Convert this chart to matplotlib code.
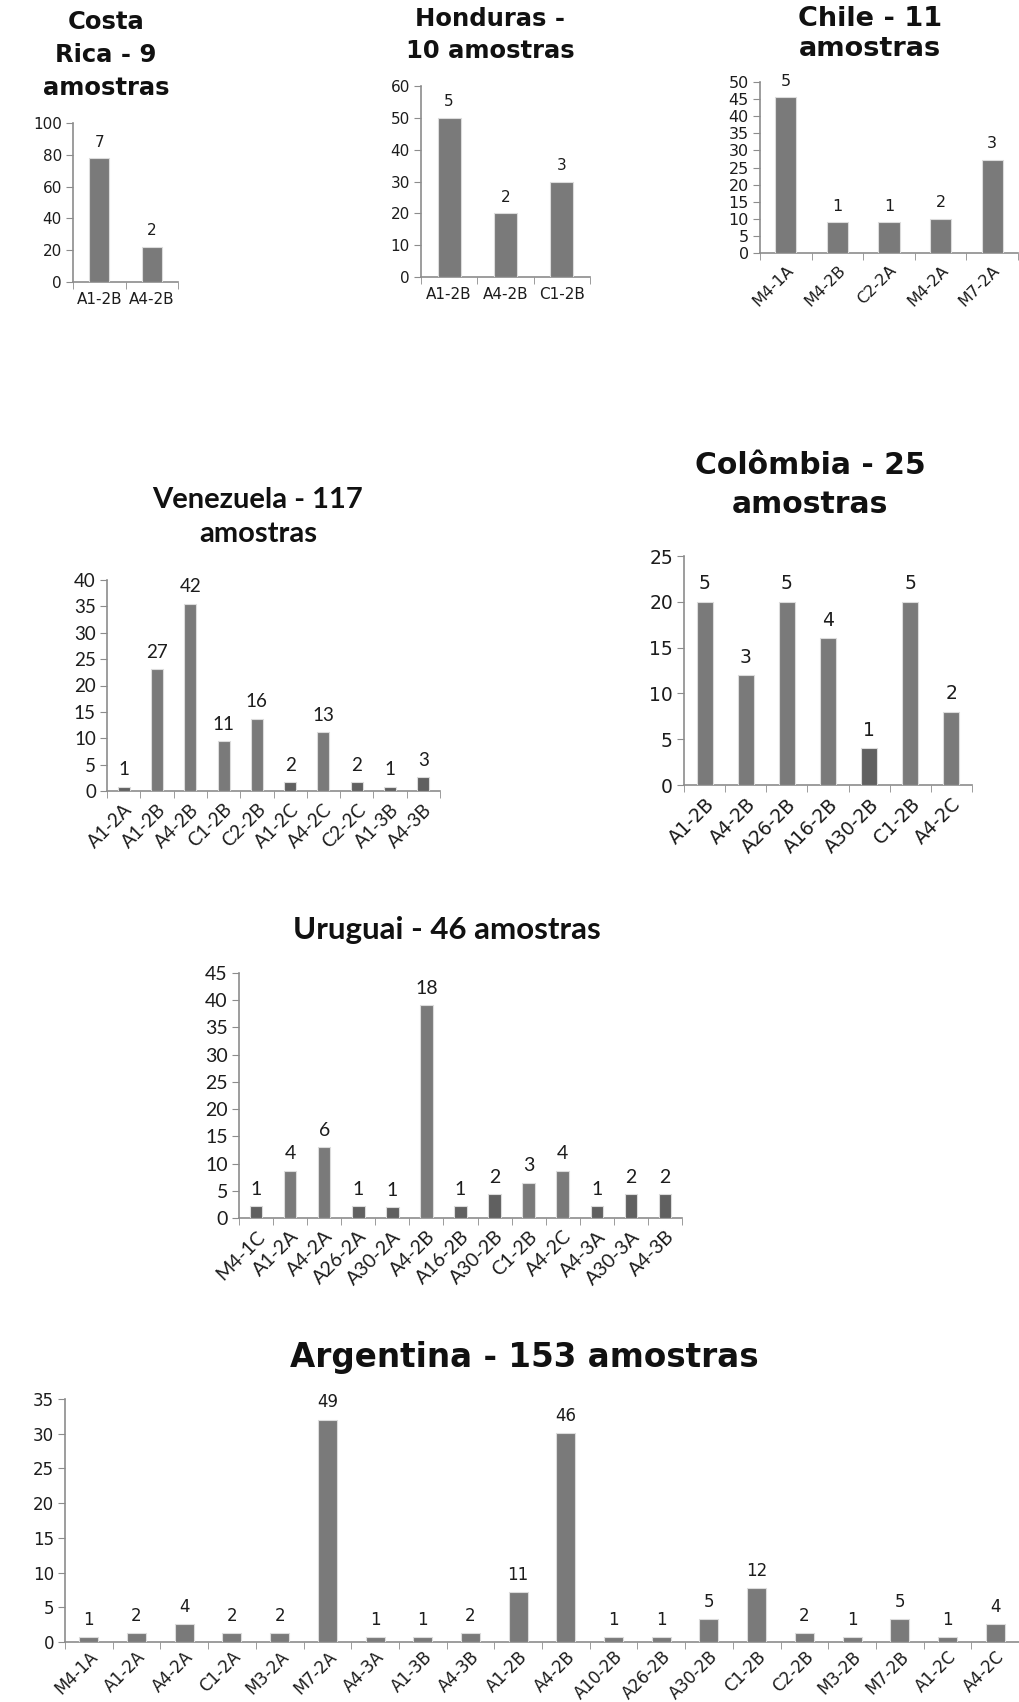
import numpy as np
import matplotlib
matplotlib.use("Agg")
import matplotlib.pyplot as plt

# ── Data: percentage of samples per profile, with sample counts ──────────────
cr_cats = ["A1-2B", "A4-2B"]
cr_pct = [77.8, 22.2]
cr_n = [7, 2]

hn_cats = ["A1-2B", "A4-2B", "C1-2B"]
hn_pct = [50.0, 20.0, 30.0]
hn_n = [5, 2, 3]

cl_cats = ["M4-1A", "M4-2B", "C2-2A", "M4-2A", "M7-2A"]
cl_pct = [45.5, 9.1, 9.1, 10.0, 27.3]
cl_n = [5, 1, 1, 2, 3]

ve_cats = ["A1-2A", "A1-2B", "A4-2B", "C1-2B", "C2-2B",
           "A1-2C", "A4-2C", "C2-2C", "A1-3B", "A4-3B"]
ve_pct = [0.85, 23.1, 35.5, 9.4, 13.7, 1.7, 11.1, 1.7, 0.85, 2.6]
ve_n = [1, 27, 42, 11, 16, 2, 13, 2, 1, 3]

co_cats = ["A1-2B", "A4-2B", "A26-2B", "A16-2B", "A30-2B", "C1-2B", "A4-2C"]
co_pct = [20.0, 12.0, 20.0, 16.0, 4.0, 20.0, 8.0]
co_n = [5, 3, 5, 4, 1, 5, 2]

uy_cats = ["M4-1C", "A1-2A", "A4-2A", "A26-2A", "A30-2A", "A4-2B", "A16-2B",
           "A30-2B", "C1-2B", "A4-2C", "A4-3A", "A30-3A", "A4-3B"]
uy_pct = [2.2, 8.7, 13.0, 2.2, 2.0, 39.1, 2.2, 4.35, 6.5, 8.7, 2.2, 4.35, 4.35]
uy_n = [1, 4, 6, 1, 1, 18, 1, 2, 3, 4, 1, 2, 2]

ar_cats = ["M4-1A", "A1-2A", "A4-2A", "C1-2A", "M3-2A", "M7-2A", "A4-3A",
           "A1-3B", "A4-3B", "A1-2B", "A4-2B", "A10-2B", "A26-2B", "A30-2B",
           "C1-2B", "C2-2B", "M3-2B", "M7-2B", "A1-2C", "A4-2C"]
ar_pct = [0.65, 1.3, 2.6, 1.3, 1.3, 32.0, 0.65, 0.65, 1.3, 7.2, 30.1,
          0.65, 0.65, 3.3, 7.8, 1.3, 0.65, 3.3, 0.65, 2.6]
ar_n = [1, 2, 4, 2, 2, 49, 1, 1, 2, 11, 46, 1, 1, 5, 12, 2, 1, 5, 1, 4]

W, H = 1019, 1702
BAR = "#7a7a7a"
BAR_DARK = "#606060"
TXT = "#1c1c1c"
VERDANA = ["DejaVu Sans"]
CALIBRI = ["Lato", "DejaVu Sans"]

fig = plt.figure(figsize=(W / 100, H / 100), dpi=100)


def add_axes_px(x0, y0, x1, y1):
    return fig.add_axes([x0 / W, 1 - y1 / H, (x1 - x0) / W, (y1 - y0) / H])


def title_px(x, y, s, size, family, spacing=1.3):
    fig.text(x / W, 1 - y / H, s, ha="center", va="center", fontsize=size,
             fontweight="bold", family=family, color="#111111",
             linespacing=spacing)


def panel(ax, cats, pct, n, ymax, step, family, fs, rotate=True,
          dark=(), width=0.4, pad=7):
    x = np.arange(len(cats))
    colors = [BAR_DARK if i in dark else BAR for i in range(len(cats))]
    ax.bar(x, pct, width=width, color=colors, edgecolor="#dcdcdc",
           linewidth=0.8, zorder=3)
    for xi, v, c in zip(x, pct, n):
        ax.annotate(str(c), (xi, v), xytext=(0, 6), textcoords="offset points",
                    ha="center", va="bottom", fontsize=fs, family=family,
                    color=TXT)
    ax.set_xlim(-0.5, len(cats) - 0.5)
    ax.set_ylim(0, ymax)
    ax.set_yticks(np.arange(0, ymax + 0.1, step))
    ax.set_xticks(x)
    ax.set_xticks(np.arange(len(cats) + 1) - 0.5, minor=True)
    if rotate:
        ax.set_xticklabels(cats, rotation=45, ha="right", va="top",
                           rotation_mode="anchor")
    else:
        ax.set_xticklabels(cats)
    for lab in ax.get_xticklabels() + ax.get_yticklabels():
        lab.set_family(family)
        lab.set_fontsize(fs)
        lab.set_color(TXT)
    ax.tick_params(axis="x", which="major", length=0, pad=pad)
    ax.tick_params(axis="x", which="minor", length=5, color="#8c8c8c")
    ax.tick_params(axis="y", length=5, color="#8c8c8c", pad=3)
    for side in ("top", "right"):
        ax.spines[side].set_visible(False)
    for side in ("left", "bottom"):
        ax.spines[side].set_color("#8c8c8c")
        ax.spines[side].set_linewidth(1.2)
    ax.set_facecolor("none")


# ── Top row ──────────────────────────────────────────────────────────────────
ax = add_axes_px(73, 123, 178, 282)
panel(ax, cr_cats, cr_pct, cr_n, 100, 20, VERDANA, 11, rotate=False, width=0.38)
title_px(106, 55, "Costa\nRica - 9\namostras", 17.5, VERDANA, 1.45)

ax = add_axes_px(421, 86, 590, 277)
panel(ax, hn_cats, hn_pct, hn_n, 60, 10, VERDANA, 11, rotate=False, width=0.41)
title_px(490, 35, "Honduras -\n10 amostras", 17.5, VERDANA, 1.45)

ax = add_axes_px(760, 82, 1018, 253)
panel(ax, cl_cats, cl_pct, cl_n, 50, 5, VERDANA, 11.5, width=0.41)
title_px(870, 34, "Chile - 11\namostras", 19.5, VERDANA, 1.2)

# ── Middle row ───────────────────────────────────────────────────────────────
ax = add_axes_px(107, 580, 440, 791)
panel(ax, ve_cats, ve_pct, ve_n, 40, 5, CALIBRI, 13.5,
      dark=(0, 5, 7, 8, 9), width=0.36)
title_px(258, 517, "Venezuela - 117\namostras", 21, CALIBRI, 1.4)

ax = add_axes_px(684, 556, 972, 785)
panel(ax, co_cats, co_pct, co_n, 25, 5, VERDANA, 13.5, dark=(4,), width=0.39)
title_px(810, 485, "Colômbia - 25\namostras", 21.5, VERDANA, 1.4)

# ── Uruguai ──────────────────────────────────────────────────────────────────
ax = add_axes_px(239, 973, 682, 1218)
panel(ax, uy_cats, uy_pct, uy_n, 45, 5, CALIBRI, 14,
      dark=(0, 3, 4, 6, 7, 10, 11, 12), width=0.37)
title_px(447, 930, "Uruguai - 46 amostras", 22.5, CALIBRI)

# ── Argentina ────────────────────────────────────────────────────────────────
ax = add_axes_px(65, 1399, 1019, 1642)
panel(ax, ar_cats, ar_pct, ar_n, 35, 5, VERDANA, 12, width=0.4, pad=4)
title_px(524, 1358, "Argentina - 153 amostras", 23.5, VERDANA)

fig.savefig("out.png", dpi=100, facecolor="white")
